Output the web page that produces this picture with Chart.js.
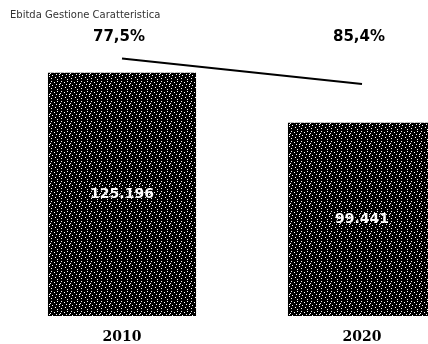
<!DOCTYPE html>
<html>
<head>
<meta charset="utf-8">
<script src="https://cdn.jsdelivr.net/npm/chart.js@4.4.1/dist/chart.umd.min.js"></script>
<style>
    html, body { margin: 0; padding: 0; background: #fff; overflow: hidden; }
    #wrap { position: relative; width: 428px; height: 344px; overflow: hidden; }
    #box { position: absolute; left: 0; top: 0; width: 482px; height: 344px; }
    #title { position: absolute; left: 10px; top: 9px; font: 10px "DejaVu Sans"; color: #333; white-space: nowrap; }
</style>
</head>
<body>
<div id="wrap">
    <div id="box"><canvas id="chart" width="482" height="344"></canvas></div>
    <div id="title">Ebitda Gestione Caratteristica</div>
</div>
<script>
// Chart data
const years = ['2010', '2020'];
const ebitda = [125196, 99441];
const margin = [77.5, 85.4];

// Italian style number formatting
function formatThousands(n) {
    return String(n).replace(/\B(?=(\d{3})+(?!\d))/g, '.');
}
function formatPercent(v) {
    return v.toFixed(1).replace('.', ',') + '%';
}

// Speckled black fill, like the scanned bars
const tileRows = [
    '..........',
    '.#.....#..',
    '....#.....',
    '#.........',
    '......#..#',
    '..#.......',
    '.........#',
    '.....#....',
    '.#........',
    '.......#..'
];
function makePattern(ctx) {
    const size = tileRows.length;
    const tile = document.createElement('canvas');
    tile.width = size;
    tile.height = size;
    const t = tile.getContext('2d');
    t.fillStyle = '#000';
    t.fillRect(0, 0, size, size);
    t.fillStyle = '#fff';
    tileRows.forEach((row, y) => {
        for (let x = 0; x < row.length; x++) {
            if (row[x] === '#') t.fillRect(x, y, 1, 1);
        }
    });
    return ctx.createPattern(tile, 'repeat');
}

// Labels: percentages above the plot, values inside the bars
const labelPlugin = {
    id: 'labelPlugin',
    afterDatasetsDraw(chart) {
        const ctx = chart.ctx;
        const xScale = chart.scales.x;
        const barMeta = chart.getDatasetMeta(1);
        ctx.save();
        ctx.textAlign = 'center';
        ctx.textBaseline = 'middle';

        ctx.fillStyle = '#000';
        ctx.font = 'bold 15px "DejaVu Sans"';
        margin.forEach((v, i) => {
            ctx.fillText(formatPercent(v), xScale.getPixelForValue(i) - 3, chart.chartArea.top - 7);
        });

        ctx.fillStyle = '#fff';
        ctx.font = 'bold 14px "DejaVu Sans"';
        barMeta.data.forEach((bar, i) => {
            ctx.fillText(formatThousands(ebitda[i]), bar.x, (bar.y + bar.base) / 2);
        });
        ctx.restore();
    }
};

const canvas = document.getElementById('chart');
const barFill = makePattern(canvas.getContext('2d'));

new Chart(canvas, {
    type: 'bar',
    data: {
        labels: years,
        datasets: [
            {
                type: 'line',
                data: margin,
                yAxisID: 'y1',
                borderColor: '#000',
                borderWidth: 2,
                pointRadius: 0,
                tension: 0,
                order: 0
            },
            {
                data: ebitda,
                yAxisID: 'y',
                backgroundColor: barFill,
                borderWidth: 0,
                barPercentage: 0.617,
                categoryPercentage: 1,
                order: 1
            }
        ]
    },
    options: {
        responsive: false,
        animation: false,
        layout: {
            padding: { top: 44, left: 2, right: 0, bottom: 0 }
        },
        plugins: {
            legend: { display: false },
            tooltip: { enabled: false }
        },
        scales: {
            x: {
                grid: { display: false, drawTicks: false },
                border: { display: false },
                afterFit: (scale) => { scale.height = 28; },
                ticks: {
                    padding: 13,
                    color: '#000',
                    font: { family: 'DejaVu Serif', size: 14, weight: 'bold' }
                }
            },
            y: {
                display: false,
                min: 0,
                max: 140000
            },
            y1: {
                display: false,
                reverse: true,
                min: 73.0,
                max: 157.3
            }
        }
    },
    plugins: [labelPlugin]
});
</script>
</body>
</html>
